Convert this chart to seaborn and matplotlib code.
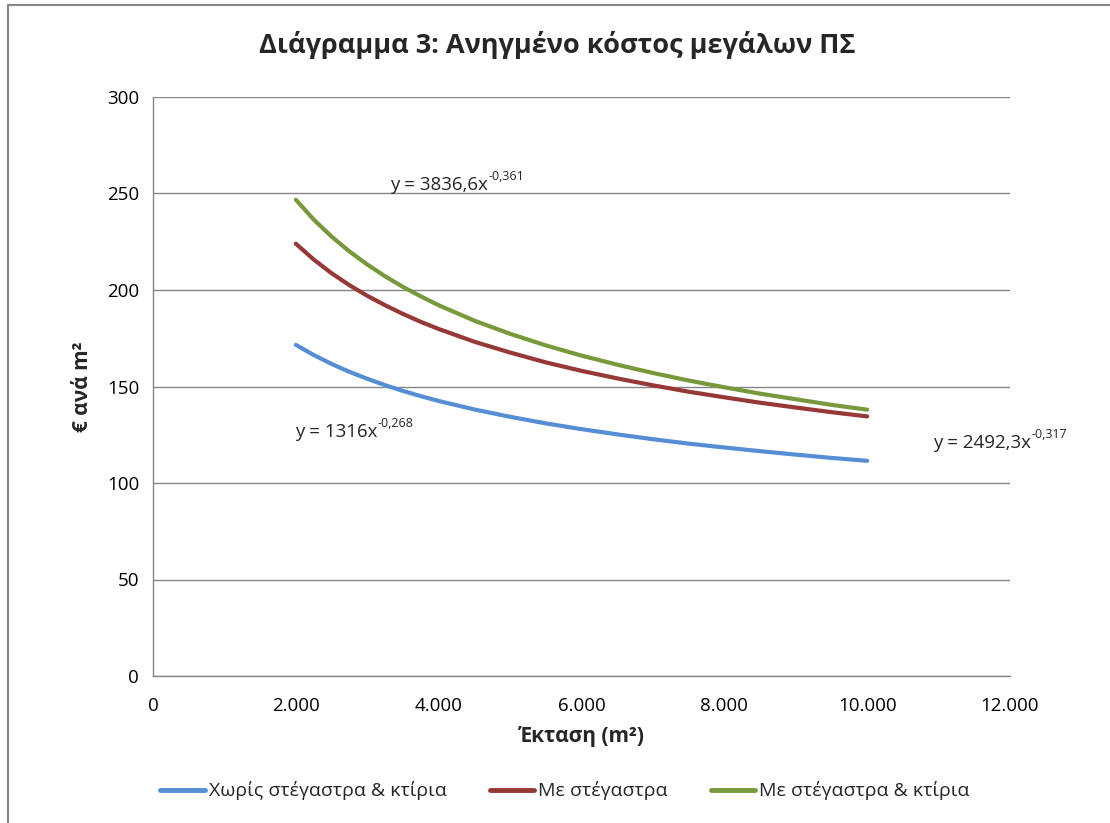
import matplotlib
matplotlib.use("Agg")
import matplotlib.pyplot as plt
from matplotlib.lines import Line2D
import seaborn as sns
import pandas as pd

# Data
area = [2000, 2250, 2500, 2750, 3000, 3250, 3500, 3750, 4000, 4500, 5000, 5500,
        6000, 6500, 7000, 7500, 8000, 8500, 9000, 9500, 10000]
no_shelter = [171.6, 166.3, 161.7, 157.6, 154.0, 150.7, 147.7, 145.0, 142.5, 138.1, 134.3, 130.9,
              127.9, 125.2, 122.7, 120.4, 118.4, 116.5, 114.7, 113.0, 111.5]
shelter = [224.0, 215.8, 208.7, 202.5, 197.0, 192.1, 187.6, 183.5, 179.8, 173.2, 167.6, 162.5,
           158.1, 154.2, 150.6, 147.3, 144.4, 141.6, 139.1, 136.7, 134.5]
shelter_buildings = [246.8, 236.5, 227.7, 220.0, 213.2, 207.1, 201.6, 196.7, 192.1, 184.1, 177.3, 171.3,
                     166.0, 161.3, 157.0, 153.1, 149.6, 146.3, 143.4, 140.5, 138.0]
series_names = ["Χωρίς στέγαστρα & κτίρια", "Με στέγαστρα", "Με στέγαστρα & κτίρια"]
colors = ["#558ED5", "#963836", "#77993B"]
x_ticks = [0, 2000, 4000, 6000, 8000, 10000, 12000]
x_tick_labels = ["0", "2.000", "4.000", "6.000", "8.000", "10.000", "12.000"]
y_ticks = [0, 50, 100, 150, 200, 250, 300]
eq_bases = ["y = 1316x", "y = 2492,3x", "y = 3836,6x"]
eq_exps = ["-0,268", "-0,317", "-0,361"]

df = pd.concat([
    pd.DataFrame({"x": area, "y": vals, "series": name})
    for name, vals in zip(series_names, [no_shelter, shelter, shelter_buildings])
])

sns.set_theme(style="white")
plt.rcParams["font.family"] = ["Open Sans", "DejaVu Sans"]

fig = plt.figure(figsize=(11.1, 8.23), dpi=100)
ax = fig.add_axes([153/1110, 1-676/823, (1010-153)/1110, (676-97)/823])

sns.lineplot(data=df, x="x", y="y", hue="series", palette=colors,
             hue_order=series_names, linewidth=3.0, ax=ax, legend=False,
             solid_capstyle="round", solid_joinstyle="round")

ax.set_xlim(0, 12000)
ax.set_ylim(0, 300)
ax.set_xticks(x_ticks)
ax.set_xticklabels(x_tick_labels)
ax.set_yticks(y_ticks)
ax.tick_params(axis="both", labelsize=13.5, colors="#000000")
ax.tick_params(axis="x", direction="out", length=6, width=1, color="#868686", pad=9)
ax.tick_params(axis="y", direction="inout", length=10, width=1, color="#868686", pad=5)
ax.grid(axis="y", color="#868686", linewidth=1)
ax.set_axisbelow(True)
for s in ["top", "right"]:
    ax.spines[s].set_visible(False)
for s in ["left", "bottom"]:
    ax.spines[s].set_color("#868686")
    ax.spines[s].set_linewidth(1)

ax.set_xlabel("Έκταση (m²)", fontsize=15, fontweight="bold", labelpad=8)
ax.set_ylabel("€ ανά m²", fontsize=15, fontweight="bold", labelpad=10)

fig.text(557/1110, 1-45/823, "Διάγραμμα 3: Ανηγμένο κόστος μεγάλων ΠΣ",
         ha="center", va="center", fontsize=19.5, fontweight="bold")

# Trendline equation labels (base text + raised exponent)
eq_pos = [(295, 432), (933, 443), (390, 185)]
renderer = fig.canvas.get_renderer()
for (px, py), base, exp in zip(eq_pos, eq_bases, eq_exps):
    t = fig.text(px/1110, 1-py/823, base, ha="left", va="center", fontsize=13.5)
    bb = t.get_window_extent(renderer=renderer)
    fig.text(bb.x1/1110 + 0.5/1110, 1-(py-8)/823, exp, ha="left", va="center", fontsize=9)

handles = [Line2D([0], [0], color=c, linewidth=3.5, solid_capstyle="round") for c in colors]
fig.legend(handles, series_names, loc="center", bbox_to_anchor=(565/1110, 1-791/823),
           ncol=3, frameon=False, fontsize=14, handlelength=2.3, handletextpad=0.2,
           columnspacing=2.2)

# chart area border (left and top visible)
fig.add_artist(Line2D([8/1110, 8/1110], [0, 1-5/823], color="#868686", linewidth=1.5,
                      transform=fig.transFigure))
fig.add_artist(Line2D([8/1110, 1], [1-5/823, 1-5/823], color="#868686", linewidth=1.5,
                      transform=fig.transFigure))

fig.savefig("out.png", dpi=100, facecolor="white")
